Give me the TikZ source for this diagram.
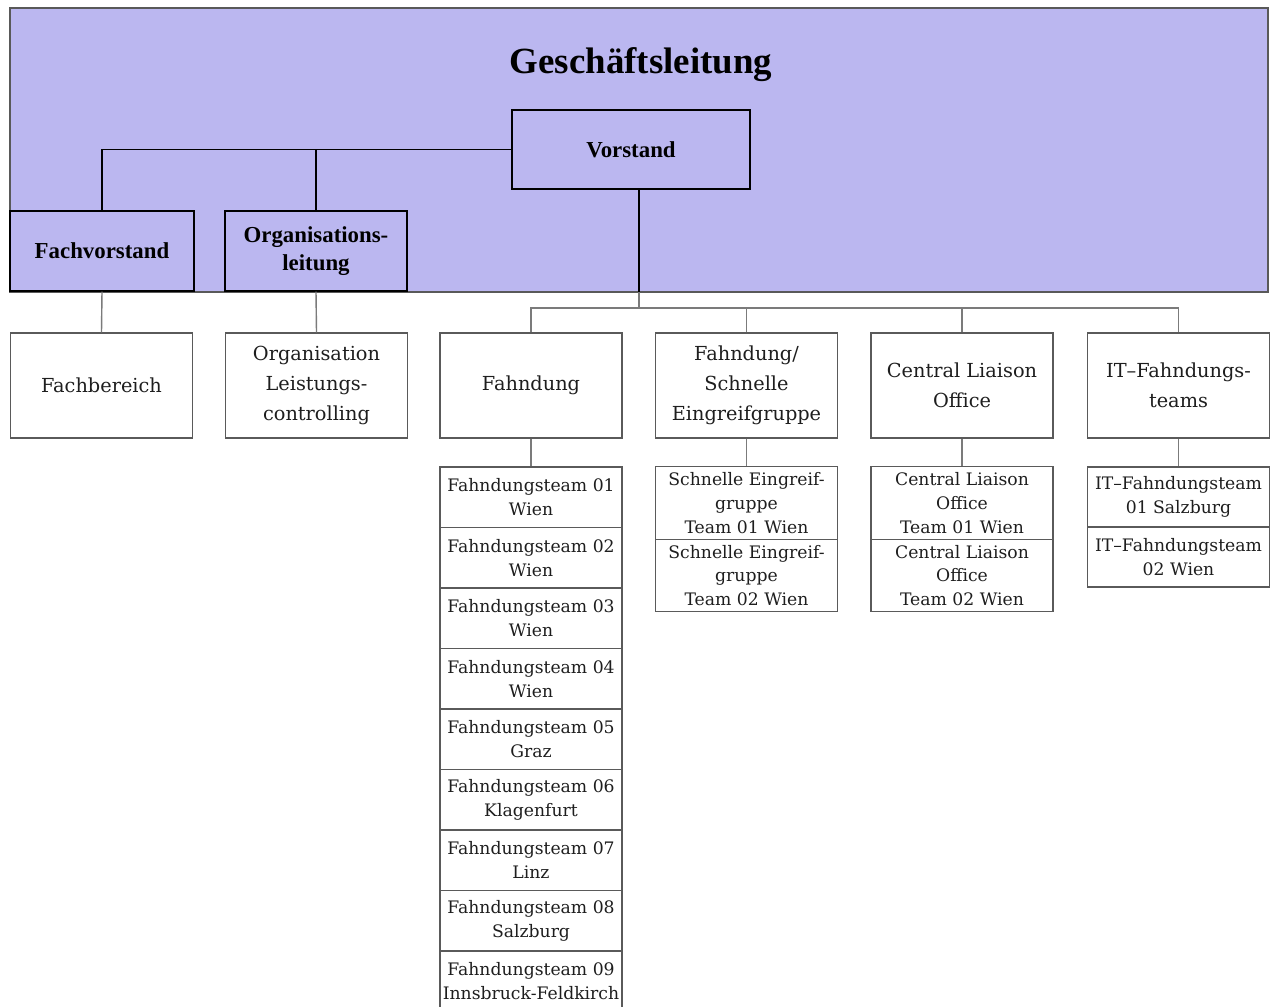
\documentclass[tikz,border=0pt]{standalone}
\usepackage{fontspec}
\setmainfont{Liberation Serif}
\newfontfamily\lowfont{DejaVu Serif}
\definecolor{purp}{RGB}{187,183,240}
\definecolor{lowline}{RGB}{90,90,90}
\definecolor{lowtext}{RGB}{30,30,30}
\begin{document}
\begin{tikzpicture}[x=0.02cm,y=-0.02cm,
  topbox/.style={draw=black, line width=0.8pt, fill=purp, align=center, inner sep=0pt,
    font=\bfseries\fontsize{13}{15.5}\selectfont},
  lowbox/.style={draw=lowline, line width=0.7pt, fill=white, align=center, inner sep=0pt,
    minimum width=3.64cm, minimum height=2.1cm, text=lowtext,
    font=\lowfont\fontsize{11}{17}\selectfont},
  subbox/.style={draw=lowline, line width=0.7pt, fill=white, align=center, inner sep=0pt,
    minimum width=3.64cm, text=lowtext,
    font=\lowfont\fontsize{9.8}{13.6}\selectfont},
  topline/.style={draw=black, line width=0.8pt},
  lowconn/.style={draw=lowline!80, line width=0.8pt}]
\useasboundingbox (0,0) rectangle (1271,1007);
% background band
\fill[purp] (10,8) rectangle (1268,292);
\draw[gray!70!black, line width=0.6pt] (10,8) rectangle (1268,292);
\node[font=\bfseries\fontsize{21}{25}\selectfont] (title) at (641,65) {Geschäftsleitung};
% top boxes
\node[topbox, minimum width=4.76cm, minimum height=1.58cm] (vor) at (631,149.5) {Vorstand};
\node[topbox, minimum width=3.68cm, minimum height=1.6cm] (fach) at (102,251) {Fachvorstand};
\node[topbox, minimum width=3.64cm, minimum height=1.6cm] (org) at (316,251) {Organisations-\\leitung};
\draw[topline] (vor.west) -| (fach.north);
\draw[topline] (vor.west -| org.north) -- (org.north);
\coordinate (bus) at (639,308);
\draw[topline] (bus |- vor.south) -- (bus |- 292,292);
\draw[lowconn] (bus |- 292,292) -- (bus);
% lower row
\node[lowbox] (fachb) at (101.5,385.5) {Fachbereich};
\node[lowbox] (orglc) at (316.5,385.5) {Organisation\\Leistungs-\\controlling};
\node[lowbox] (fahn) at (531,385.5) {Fahndung};
\node[lowbox] (seg) at (746.5,385.5) {Fahndung/\\Schnelle\\Eingreifgruppe};
\node[lowbox] (clo) at (962,385.5) {Central Liaison\\Office};
\node[lowbox] (it) at (1178.5,385.5) {IT–Fahndungs-\\teams};
\draw[lowconn] (fach.south) -- (fachb.north);
\draw[lowconn] (org.south) -- (orglc.north);
\draw[lowconn] (fahn.north) -- (fahn.north |- bus) -- (it.north |- bus) -- (it.north);
\draw[lowconn] (seg.north) -- (seg.north |- bus);
\draw[lowconn] (clo.north) -- (clo.north |- bus);
% Fahndung teams
\foreach \i/\n/\c in {1/01/Wien,2/02/Wien,3/03/Wien,4/04/Wien,5/05/Graz,6/06/Klagenfurt,7/07/Linz,8/08/Salzburg,9/09/Innsbruck-Feldkirch}{
  \node[subbox, minimum height=1.21cm] (f\i) at (531,{467+60.5*(\i-0.5)}) {Fahndungsteam \n\\\c};
}
\draw[lowconn] (fahn.south) -- (f1.north);
% SEG teams
\node[subbox, minimum height=1.45cm] (s1) at (746.5,503) {Schnelle Eingreif-\\gruppe\\Team 01 Wien};
\node[subbox, minimum height=1.45cm] (s2) at (746.5,575.5) {Schnelle Eingreif-\\gruppe\\Team 02 Wien};
\draw[lowconn] (seg.south) -- (s1.north);
% CLO teams
\node[subbox, minimum height=1.45cm] (c1) at (962,503) {Central Liaison\\Office\\Team 01 Wien};
\node[subbox, minimum height=1.45cm] (c2) at (962,575.5) {Central Liaison\\Office\\Team 02 Wien};
\draw[lowconn] (clo.south) -- (c1.north);
% IT teams
\node[subbox, minimum height=1.2cm] (i1) at (1178.5,497) {IT–Fahndungsteam\\01 Salzburg};
\node[subbox, minimum height=1.2cm] (i2) at (1178.5,557) {IT–Fahndungsteam\\02 Wien};
\draw[lowconn] (it.south) -- (i1.north);
\end{tikzpicture}
\end{document}
